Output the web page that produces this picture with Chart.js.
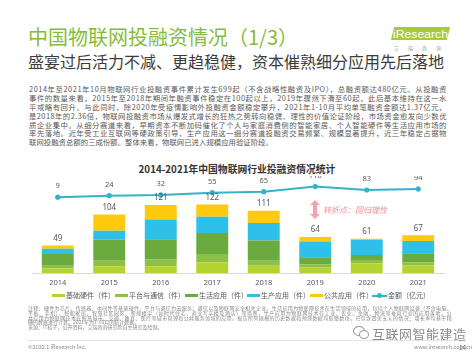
<!DOCTYPE html>
<html><head><meta charset="utf-8">
<script src="https://cdn.jsdelivr.net/npm/chart.js@4/dist/chart.umd.min.js"></script>
<style>
html,body{margin:0;padding:0;background:#fff;}
body{width:474px;height:355px;position:relative;overflow:hidden;font-family:"Noto Sans CJK SC","Noto Sans",sans-serif;}
.abs{position:absolute;}
#title{left:28px;top:24px;font-size:20px;color:#86bc3a;line-height:26px;white-space:nowrap;}
#sub{left:28px;top:51px;font-size:16px;color:#3c3c3c;line-height:20px;white-space:nowrap;}
#para{left:29px;top:85px;width:418px;font-size:7.4px;color:#5a5a5a;line-height:8.9px;}
#para div{height:8.9px;white-space:nowrap;}
#ctitle{left:0;width:474px;top:163px;text-align:center;font-size:9.8px;font-weight:bold;color:#333;line-height:12px;}
#chartbox{left:0;top:176px;width:474px;height:118px;}
.lg{position:absolute;top:290px;font-size:7px;color:#595959;line-height:10px;white-space:nowrap;}
.sw{position:absolute;top:294px;height:3px;width:13px;}
#notes{left:28px;top:306px;width:424px;font-size:5px;color:#8a8a8a;line-height:4.8px;}
#notes div{height:4.8px;white-space:nowrap;}
#sep{left:28px;top:340px;width:424px;height:1px;background:#e3e3e3;}
#copy{left:28px;top:343px;font-size:5.5px;color:#8a8a8a;}
#www{left:414px;top:343px;font-size:5.5px;color:#8a8a8a;}
#page{left:459px;top:342px;font-size:6.5px;color:#666;}
#wm{left:372px;top:324px;font-size:13px;color:#777;opacity:0.85;letter-spacing:0.5px;white-space:nowrap;}
#turn{left:323px;top:204px;font-size:8px;color:#f08c98;font-style:italic;white-space:nowrap;}
</style></head>
<body>
<div id="title" class="abs">中国物联网投融资情况（1/3）</div>
<svg class="abs" style="left:390px;top:26px" width="62" height="26" viewBox="0 0 62 26">
  <polygon points="4,1 60,1 57,14 1,14" fill="#a9c93a"/>
  <text x="3" y="12" font-size="11" font-family="Liberation Sans, Arial" fill="#fff" textLength="55" lengthAdjust="spacingAndGlyphs">iResearch</text>
  <text x="4" y="23.5" font-size="5" fill="#9a9a9a" font-family="Noto Sans CJK SC" letter-spacing="9">艾瑞咨询</text>
</svg>
<div id="sub" class="abs">盛宴过后活力不减、更趋稳健，资本催熟细分应用先后落地</div>
<div id="para" class="abs">
<div class="fit">2014年至2021年10月物联网行业投融资事件累计发生699起（不含战略性融资及IPO），总融资额达480亿元。从投融资</div>
<div class="fit">事件的数量来看，2015年至2018年期间年融资事件稳定在100起以上，2019年骤然下滑至60起，此后基本维持在这一水</div>
<div class="fit">平或略有回升。与此同时，除2020年受疫情影响外投融资金额稳定攀升，2021年1-10月平均单笔融资金额达1.37亿元，</div>
<div class="fit">是2018年的2.36倍，物联网投融资市场从爆发式增长的狂热之势转向稳健、理性的价值论证阶段，市场资金愈发向少数优</div>
<div class="fit">质企业集中。从细分赛道来看，早期资本不断加码催化了个人与家庭消费侧的智能家居、个人智能硬件等生活应用市场的</div>
<div class="fit">率先落地。近年受工业互联网等硬政策引导，生产应用这一细分赛道投融资交易频繁、规模显著提升，近三年稳定占据物</div>
<div>联网投融资总额的三成份额。整体来看，物联网已进入规模应用验证阶段。</div>
</div>
<div id="ctitle" class="abs">2014-2021年中国物联网行业投融资情况统计</div>
<div id="chartbox" class="abs"><canvas id="c" width="474" height="118"></canvas></div>
<svg class="abs" style="left:310px;top:200px" width="10" height="19" viewBox="0 0 10 19">
  <polygon points="5,0 10,5 7,5 7,14 10,14 5,19 0,14 3,14 3,5 0,5" fill="#f2a3ad"/>
</svg>
<div id="turn" class="abs">转折点：回归理性</div>

<div class="sw" style="left:52px;background:#b5d330"></div><div class="lg" style="left:66px">基础硬件（件）</div>
<div class="sw" style="left:115px;background:#8dc045"></div><div class="lg" style="left:129px">平台与通信（件）</div>
<div class="sw" style="left:185px;background:#6baa3e"></div><div class="lg" style="left:199px">生活应用（件）</div>
<div class="sw" style="left:247px;background:#2dc0ea"></div><div class="lg" style="left:261px">生产应用（件）</div>
<div class="sw" style="left:310px;background:#ffc90e"></div><div class="lg" style="left:324px">公共应用（件）</div>
<div class="sw" style="left:372px;width:15px;height:2px;top:295px;background:#35b3c9"></div>
<div class="abs" style="left:377px;top:293px;width:5px;height:5px;border-radius:50%;background:#35b3c9"></div>
<div class="lg" style="left:388px">金额（亿元）</div>

<div id="notes" class="abs">
<div class="fit">注释：硬件为芯片、传感器、中间件等基础硬件，平台与通信为云服务、通信以及物联网安全相关企业，生活应用为物联网技术在生活领域的应用，包括个人物联网设备（不含电脑、</div>
<div class="fit">平板、手机）、智能家居、智慧社区园区、智能楼宇（如时代住宅、商业写字楼及酒店）等场景，生产应用为物联网技术在工业、农业、金融、物流等垂直行业的应用落地，公</div>
<div class="fit">共应用为物联网技术在智慧城市、交通、教育、医疗等城市管理和公共服务领域的应用。报告所列规模的历史数据和预测数据均取整数位，已包含四舍五入的情况；增长率均基于精</div>
<div>确的数据进行计算。2021年为1-10月的统计数据。</div>
<div>来源：IT桔子，公开资料，艾瑞咨询研究院自主研究及绘制。</div>
</div>
<div id="wm" class="abs">互联网智能建造</div>
<div class="abs" style="left:353px;top:326px;width:10px;height:8px;border:1.2px solid #999;border-radius:50%;"></div>
<div class="abs" style="left:359px;top:330px;width:8px;height:7px;border:1.2px solid #999;border-radius:50%;background:#fff;"></div>
<div id="sep" class="abs"></div>
<div id="copy" class="abs">©2022.1 iResearch Inc.</div>
<div id="www" class="abs">www.iresearch.com.cn</div>
<div id="page" class="abs">14</div>

<script>
const years = ['2014','2015','2016','2017','2018','2019','2020','2021'];
const basicHardware = [8, 12, 12, 19, 13, 10, 17, 14];
const platformComm = [5, 10, 12, 15, 9, 5, 6, 5];
const lifeApps = [21, 37, 36, 37, 36, 13, 9, 16];
const productionApps = [9, 16, 35, 29, 31, 28, 27, 22];
const publicApps = [6, 29, 26, 22, 22, 8, 2, 10];
const eventTotals = [49, 104, 121, 122, 111, 64, 61, 67];
const amounts = [9, 24, 32, 55, 65, 118, 83, 94];

// stretch justified text lines to their box width
document.querySelectorAll('.fit').forEach(el => {
  const target = el.parentElement.clientWidth;
  el.style.display = 'inline-block';
  const w = el.getBoundingClientRect().width;
  el.style.display = 'block';
  const n = el.textContent.length;
  el.style.letterSpacing = ((target - w) / n) + 'px';
});

const labelPlugin = {
  id: 'valueLabels',
  afterDatasetsDraw(chart) {
    const ctx = chart.ctx;
    ctx.save();
    ctx.font = '8px "Noto Sans","Liberation Sans",sans-serif';
    ctx.fillStyle = '#595959';
    ctx.textAlign = 'center';
    ctx.textBaseline = 'middle';
    const topMeta = chart.getDatasetMeta(4);
    topMeta.data.forEach((el, i) => { ctx.fillText(String(eventTotals[i]), el.x, el.y - 7); });
    const lineMeta = chart.getDatasetMeta(5);
    ctx.font = '7.5px "Noto Sans","Liberation Sans",sans-serif';
    lineMeta.data.forEach((el, i) => { ctx.fillText(String(amounts[i]), el.x, el.y - 11); });
    ctx.restore();
  }
};

const barCommon = { stack: 's', yAxisID: 'y', barPercentage: 0.62, categoryPercentage: 1, borderWidth: 0 };
new Chart(document.getElementById('c'), {
  data: {
    labels: years,
    datasets: [
      Object.assign({ type: 'bar', label: '基础硬件（件）', data: basicHardware, backgroundColor: '#b5d330', order: 2 }, barCommon),
      Object.assign({ type: 'bar', label: '平台与通信（件）', data: platformComm, backgroundColor: '#8dc045', order: 2 }, barCommon),
      Object.assign({ type: 'bar', label: '生活应用（件）', data: lifeApps, backgroundColor: '#6baa3e', order: 2 }, barCommon),
      Object.assign({ type: 'bar', label: '生产应用（件）', data: productionApps, backgroundColor: '#2dc0ea', order: 2 }, barCommon),
      Object.assign({ type: 'bar', label: '公共应用（件）', data: publicApps, backgroundColor: '#ffc90e', order: 2 }, barCommon),
      { type: 'line', label: '金额（亿元）', data: amounts, yAxisID: 'y2', borderColor: '#35b3c9', backgroundColor: '#35b3c9',
        borderWidth: 2, pointRadius: 2.6, pointBackgroundColor: '#35b3c9', pointBorderWidth: 0, tension: 0, order: 1 }
    ]
  },
  options: {
    responsive: false,
    animation: false,
    devicePixelRatio: 1,
    layout: { padding: { left: 32, right: 30, top: 4, bottom: 2 } },
    plugins: { legend: { display: false }, tooltip: { enabled: false } },
    scales: {
      x: {
        stacked: true,
        grid: { display: false, drawTicks: false },
        border: { display: true, color: '#d9d9d9', width: 1 },
        ticks: { color: '#595959', font: { size: 7.5, family: '"Noto Sans","Liberation Sans",sans-serif' }, padding: 5 }
      },
      y: { stacked: true, display: false, min: 0, max: 165.5 },
      y2: { display: false, min: -774, max: 186 }
    }
  },
  plugins: [labelPlugin]
});
</script>
</body></html>
